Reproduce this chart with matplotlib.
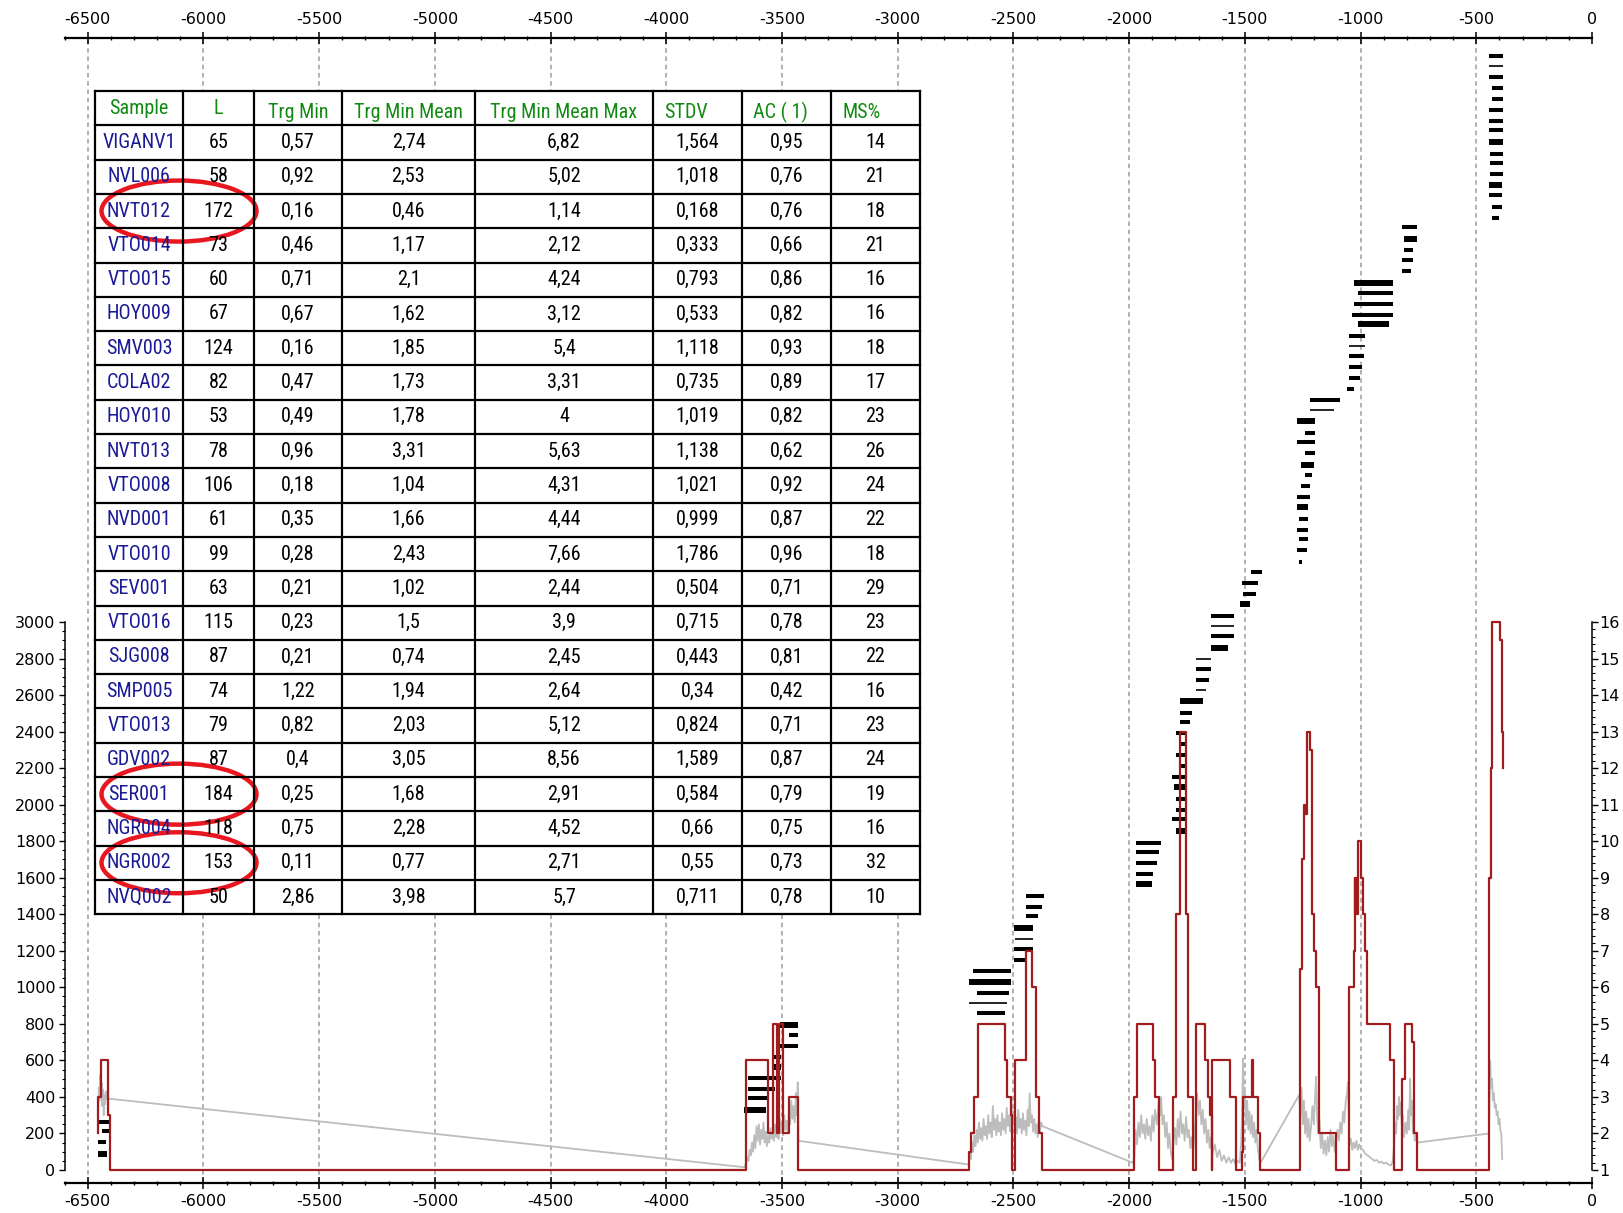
import matplotlib
matplotlib.use('Agg')
import matplotlib.pyplot as plt
from matplotlib import font_manager
from matplotlib.patches import Ellipse, Rectangle
from matplotlib.ticker import FixedLocator
import numpy as np

# ---- table data ----
headers = ['Sample', 'L', 'Trg Min', 'Trg Min Mean', 'Trg Min Mean Max', 'STDV', 'AC ( 1)', 'MS%']
samples = ['VIGANV1', 'NVL006', 'NVT012', 'VTO014', 'VTO015', 'HOY009', 'SMV003', 'COLA02',
           'HOY010', 'NVT013', 'VTO008', 'NVD001', 'VTO010', 'SEV001', 'VTO016', 'SJG008',
           'SMP005', 'VTO013', 'GDV002', 'SER001', 'NGR004', 'NGR002', 'NVQ002']
length = [65, 58, 172, 73, 60, 67, 124, 82, 53, 78, 106, 61, 99, 63, 115, 87, 74, 79, 87, 184, 118, 153, 50]
trg_min = [0.57, 0.92, 0.16, 0.46, 0.71, 0.67, 0.16, 0.47, 0.49, 0.96, 0.18, 0.35, 0.28, 0.21,
           0.23, 0.21, 1.22, 0.82, 0.4, 0.25, 0.75, 0.11, 2.86]
trg_min_mean = [2.74, 2.53, 0.46, 1.17, 2.1, 1.62, 1.85, 1.73, 1.78, 3.31, 1.04, 1.66, 2.43, 1.02,
                1.5, 0.74, 1.94, 2.03, 3.05, 1.68, 2.28, 0.77, 3.98]
trg_min_mean_max = [6.82, 5.02, 1.14, 2.12, 4.24, 3.12, 5.4, 3.31, 4, 5.63, 4.31, 4.44, 7.66, 2.44,
                    3.9, 2.45, 2.64, 5.12, 8.56, 2.91, 4.52, 2.71, 5.7]
stdv = [1.564, 1.018, 0.168, 0.333, 0.793, 0.533, 1.118, 0.735, 1.019, 1.138, 1.021, 0.999, 1.786,
        0.504, 0.715, 0.443, 0.34, 0.824, 1.589, 0.584, 0.66, 0.55, 0.711]
ac1 = [0.95, 0.76, 0.76, 0.66, 0.86, 0.82, 0.93, 0.89, 0.82, 0.62, 0.92, 0.87, 0.96, 0.71, 0.78,
       0.81, 0.42, 0.71, 0.87, 0.79, 0.75, 0.73, 0.78]
ms_pct = [14, 21, 18, 21, 16, 16, 18, 17, 23, 26, 24, 22, 18, 29, 23, 22, 16, 23, 24, 19, 16, 32, 10]
circled = ['NVT012', 'SER001', 'NGR002']

# ---- series spans (start year, end year, level on left scale, weight 0 thin/1/2 thick) ----
bar_start = [-446, -446, -446, -432, -432, -446, -446, -446, -446, -439, -439, -439, -446, -446, -432, -432,
             -820, -813, -813, -820, -820,
             -1028, -1012, -1028, -1036, -1012,
             -1049, -1049, -1049, -1049, -1049, -1058,
             -1217, -1217, -1274, -1241, -1274, -1241, -1258, -1241, -1258, -1274, -1274, -1265, -1274, -1265, -1274, -1265,
             -1474, -1514, -1506, -1520,
             -1647, -1647, -1647, -1647,
             -1712, -1712, -1712, -1712,
             -1781, -1781, -1781,
             -1798, -1781, -1798, -1776, -1813, -1806, -1798, -1798, -1813, -1798,
             -1971, -1971, -1971, -1971, -1971,
             -2447, -2447, -2447, -2497, -2493, -2497, -2497,
             -2674, -2691, -2658, -2691, -2658,
             -3507, -3471, -3507, -3533, -3537, -3648, -3648, -3648, -3663,
             -6451, -6438, -6455, -6455]
bar_end = [-385, -385, -385, -385, -385, -385, -385, -385, -385, -385, -385, -385, -391, -391, -391, -400,
           -757, -757, -772, -772, -780,
           -859, -859, -859, -859, -877,
           -980, -980, -987, -996, -1004, -1028,
           -1091, -1116, -1196, -1196, -1196, -1196, -1203, -1212, -1219, -1219, -1226, -1226, -1226, -1226, -1233, -1252,
           -1427, -1442, -1452, -1476,
           -1546, -1546, -1546, -1571,
           -1648, -1648, -1657, -1666,
           -1680, -1729, -1736,
           -1755, -1755, -1758, -1758, -1758, -1758, -1758, -1758, -1758, -1758,
           -1863, -1870, -1878, -1895, -1902,
           -2370, -2378, -2393, -2415, -2415, -2415, -2447,
           -2512, -2512, -2519, -2526, -2536,
           -3432, -3432, -3432, -3504, -3504, -3504, -3529, -3562, -3569,
           -6408, -6408, -6419, -6416]
bar_level = [6096, 6043, 5985, 5923, 5864, 5802, 5743, 5693, 5626, 5560, 5511, 5455, 5391, 5336, 5274, 5213,
             5165, 5097, 5034, 4982, 4923,
             4858, 4803, 4742, 4682, 4631,
             4567, 4512, 4456, 4397, 4337, 4275,
             4216, 4162, 4103, 4035, 3983, 3926, 3859, 3805, 3745, 3684, 3628, 3565, 3506, 3455, 3394, 3330,
             3275, 3215, 3155, 3100,
             3034, 2980, 2923, 2859,
             2799, 2742, 2684, 2628,
             2567, 2502, 2452,
             2392, 2332, 2272, 2211, 2151, 2096, 2031, 1971, 1921, 1856,
             1790, 1741, 1681, 1620, 1566,
             1502, 1441, 1390, 1326, 1264, 1210, 1150,
             1089, 1029, 969, 914, 859,
             795, 739, 679, 620, 565, 502, 442, 392, 328,
             264, 213, 152, 88]
bar_weight = [1, 0, 1, 1, 1, 1, 1, 1, 2, 1, 1, 1, 2, 1, 1, 1,
              1, 2, 1, 1, 1,
              2, 1, 1, 1, 2,
              1, 0, 1, 1, 1, 1,
              1, 0, 2, 1, 1, 1, 2, 1, 1, 1, 2, 1, 1, 1, 1, 1,
              1, 1, 1, 2,
              1, 0, 1, 2,
              0, 1, 1, 0,
              2, 1, 1,
              1, 1, 1, 1, 1, 2, 1, 1, 1, 2,
              1, 1, 1, 1, 2,
              1, 1, 1, 2, 0, 1, 1,
              1, 2, 1, 0, 1,
              2, 1, 1, 1, 2, 1, 1, 1, 2,
              1, 1, 1, 2]

# ---- sample depth (right scale), step changes ----
depth_year = [-6455, -6455, -6441, -6412, -6405,
              -3655, -3562, -3540, -3523, -3514, -3494, -3471, -3429,
              -2694, -2684, -2670, -2655, -2536, -2526, -2512, -2507, -2493, -2447, -2418, -2404, -2389, -2375,
              -1978, -1968, -1898, -1887, -1869, -1811, -1797, -1779, -1753, -1746, -1724,
              -1709, -1673, -1658, -1651, -1644, -1640, -1564, -1538, -1513, -1506, -1469, -1465, -1445, -1433,
              -1262, -1251, -1243, -1240, -1237, -1234, -1230, -1218, -1208, -1200, -1193, -1179, -1106,
              -1048, -1030, -1026, -1022, -1020, -1018, -1016, -1014, -1012, -997, -990, -983, -974, -871, -857,
              -821, -809, -777, -767, -756,
              -445, -438, -431, -397, -390, -383]
depth_val = [2, 3, 4, 2.5, 1,
             4, 2, 5, 2, 5, 2, 3, 1,
             1.5, 2, 3, 5, 4, 3, 2.5, 1, 4, 7, 6, 3, 2, 1,
             3, 5, 4, 3, 1, 3, 8, 13, 8, 3, 1,
             5, 4, 3, 2.5, 1, 4, 3, 1, 1.5, 3, 4, 3, 2, 1,
             6.5, 9.5, 11, 10.75, 11, 10.75, 13, 12.5, 8, 7, 6, 2, 1,
             6, 7, 9, 8, 9, 8, 8.5, 8, 10, 9, 8, 7, 5, 4, 1,
             3.5, 5, 4.5, 2, 1,
             9, 12, 16, 15.5, 13, 12]

# ---- chronology curve (left scale) ----
chrono = [(-6455, 330), (-6452, 450), (-6449, 380), (-6446, 520), (-6443, 420), (-6440, 480), (-6437, 350),
          (-6434, 440), (-6431, 300), (-6428, 410), (-6425, 360), (-6422, 430), (-6419, 390), (-6416, 420),
          (-6412, 385), (-6405, 390), (-3662, 15),
          (-3655, 40), (-3650, 70), (-3645, 50), (-3640, 110), (-3635, 80), (-3630, 150), (-3625, 100),
          (-3620, 190), (-3615, 120), (-3610, 240), (-3605, 160), (-3600, 250), (-3595, 140), (-3590, 220),
          (-3585, 170), (-3580, 260), (-3575, 150), (-3570, 210), (-3565, 130), (-3560, 190), (-3555, 150),
          (-3550, 230), (-3545, 170), (-3540, 210), (-3535, 160), (-3530, 250), (-3525, 180), (-3520, 230),
          (-3515, 170), (-3510, 280), (-3505, 200), (-3500, 250), (-3495, 190), (-3490, 300), (-3485, 220),
          (-3480, 270), (-3475, 200), (-3470, 320), (-3465, 250), (-3460, 380), (-3455, 280), (-3450, 350),
          (-3445, 260), (-3440, 420), (-3436, 300), (-3432, 480), (-3429, 160),
          (-2694, 30), (-2689, 90), (-2684, 60), (-2679, 150), (-2674, 100), (-2669, 190), (-2664, 130),
          (-2659, 220), (-2654, 150), (-2649, 260), (-2644, 170), (-2639, 230), (-2634, 160), (-2629, 280),
          (-2624, 190), (-2619, 240), (-2614, 170), (-2609, 300), (-2604, 200), (-2599, 260), (-2594, 180),
          (-2589, 350), (-2584, 220), (-2579, 280), (-2574, 190), (-2569, 300), (-2564, 210), (-2559, 260),
          (-2554, 190), (-2549, 310), (-2544, 220), (-2539, 280), (-2534, 200), (-2529, 340), (-2524, 240),
          (-2519, 300), (-2514, 210), (-2509, 380), (-2504, 250), (-2499, 320), (-2494, 230), (-2489, 290),
          (-2484, 200), (-2479, 330), (-2474, 230), (-2469, 280), (-2464, 200), (-2459, 310), (-2454, 220),
          (-2449, 270), (-2444, 190), (-2439, 330), (-2434, 240), (-2430, 420), (-2425, 260), (-2420, 300),
          (-2415, 210), (-2410, 280), (-2405, 200), (-2400, 250), (-2395, 180), (-2390, 300), (-2385, 210),
          (-2380, 260), (-2375, 240), (-1985, 40),
          (-1978, 60), (-1972, 220), (-1966, 140), (-1960, 260), (-1954, 180), (-1948, 300), (-1942, 200),
          (-1936, 250), (-1930, 170), (-1924, 280), (-1918, 190), (-1912, 240), (-1906, 160), (-1900, 300),
          (-1894, 210), (-1888, 330), (-1880, 250), (-1872, 380), (-1866, 300), (-1862, 400), (-1856, 250),
          (-1850, 300), (-1844, 180), (-1838, 260), (-1832, 120), (-1826, 200), (-1820, 100), (-1814, 60),
          (-1808, 150), (-1802, 230), (-1796, 140), (-1790, 280), (-1784, 180), (-1778, 320), (-1772, 200),
          (-1766, 250), (-1760, 160), (-1754, 290), (-1748, 180), (-1742, 220), (-1736, 120), (-1730, 180),
          (-1724, 90), (-1718, 200), (-1712, 300), (-1706, 420), (-1700, 300), (-1694, 380), (-1688, 250),
          (-1682, 330), (-1676, 200), (-1670, 280), (-1664, 150), (-1658, 220), (-1652, 120), (-1646, 180),
          (-1640, 90), (-1630, 140), (-1620, 70), (-1610, 110), (-1600, 50), (-1590, 80), (-1580, 40),
          (-1570, 70), (-1560, 40), (-1550, 60), (-1540, 30), (-1530, 50), (-1522, 40), (-1516, 150),
          (-1512, 300), (-1508, 610), (-1504, 350), (-1500, 450), (-1495, 250), (-1490, 380), (-1485, 220),
          (-1480, 320), (-1475, 200), (-1470, 300), (-1465, 180), (-1460, 260), (-1455, 150), (-1450, 220),
          (-1444, 120), (-1438, 60), (-1432, 40),
          (-1266, 410), (-1260, 300), (-1255, 450), (-1250, 250), (-1245, 380), (-1240, 200), (-1235, 320),
          (-1230, 180), (-1225, 280), (-1220, 160), (-1214, 240), (-1208, 350), (-1202, 250), (-1196, 420),
          (-1192, 510), (-1188, 300), (-1184, 200), (-1178, 280), (-1172, 120), (-1166, 200), (-1160, 90),
          (-1154, 160), (-1148, 80), (-1142, 180), (-1136, 100), (-1130, 220), (-1124, 130), (-1118, 190),
          (-1112, 100), (-1106, 170), (-1100, 220), (-1094, 160), (-1088, 260), (-1082, 200), (-1076, 320),
          (-1070, 260), (-1064, 380), (-1058, 420), (-1055, 480), (-1052, 350), (-1048, 140), (-1042, 170),
          (-1036, 110), (-1030, 150), (-1024, 120), (-1018, 160), (-1012, 110), (-1006, 140), (-1000, 120),
          (-990, 110), (-980, 90), (-970, 80), (-960, 70), (-950, 60), (-940, 50), (-930, 55), (-920, 40),
          (-910, 45), (-900, 35), (-890, 40), (-880, 30), (-870, 25), (-862, 40), (-856, 120), (-850, 260),
          (-846, 200), (-842, 350), (-838, 280), (-834, 400), (-830, 300), (-826, 370), (-822, 250),
          (-818, 300), (-812, 180), (-806, 260), (-800, 200), (-794, 330), (-790, 220), (-786, 500),
          (-782, 300), (-778, 380), (-774, 200), (-770, 260), (-766, 160), (-760, 200), (-756, 150),
          (-445, 200), (-440, 600), (-436, 450), (-432, 500), (-428, 380), (-424, 420), (-420, 340),
          (-416, 360), (-412, 300), (-408, 320), (-404, 250), (-400, 280), (-396, 220), (-392, 200), (-388, 60)]

# ---- fonts ----
avail = {f.name for f in font_manager.fontManager.ttflist}
plt.rcParams['font.family'] = ['DejaVu Sans']
narrow = [f for f in ['Liberation Sans Narrow', 'Roboto Condensed', 'Open Sans Condensed'] if f in avail]
if narrow:
    tfont, tsize = [narrow[0], 'DejaVu Sans'], 14.5
else:
    tfont, tsize = ['Liberation Sans', 'DejaVu Sans'], 12.5

W, H = 1623, 1213
fig = plt.figure(figsize=(W / 100, H / 100), dpi=100)

# pixel layout of the plotting area
left_px, right_px, top_px, bot_px = 64.6, 1592, 38, 1183
zero_px, px_per_unit = 1170, 548 / 3000
ax = fig.add_axes([left_px / W, 1 - bot_px / H, (right_px - left_px) / W, (bot_px - top_px) / H])
ylo = -(bot_px - zero_px) / px_per_unit
yhi = (zero_px - top_px) / px_per_unit
ax.set_xlim(-6600, 0)
ax.set_ylim(ylo, yhi)

ax.vlines(np.arange(-6500, 0, 500), ylo, yhi, colors='#9c9c9c', linestyles=(0, (3, 2.4)), lw=1.1, zorder=1)

cy = [p[0] for p in chrono]
cv = [p[1] for p in chrono]
ax.plot(cy, cv, color='#bdbdbd', lw=1.3, zorder=2)

lw_map = {0: 1.2, 1: 2.9, 2: 4.3}
ax.hlines(bar_level, bar_start, bar_end, colors='black',
          linewidths=[lw_map[w] for w in bar_weight], zorder=3)

# axes styling
for s in ['top', 'bottom']:
    ax.spines[s].set_linewidth(1.6)
ax.spines['right'].set_visible(False)
ax.spines['left'].set_bounds(0, 3000)
ax.spines['left'].set_linewidth(1.1)

xt = np.arange(-6500, 1, 500)
ax.set_xticks(xt)
ax.set_xticklabels(['-%d' % abs(v) if v else '0' for v in xt])
ax.xaxis.set_minor_locator(FixedLocator(np.arange(-6600, 1, 100)))
ax.tick_params(axis='x', which='major', top=True, labeltop=True, direction='inout', length=8, width=1.1,
               labelsize=11.5, pad=4)
ax.tick_params(axis='x', which='minor', top=True, direction='inout', length=3, width=1)
yt = np.arange(0, 3001, 200)
ax.yaxis.set_major_locator(FixedLocator(yt))
ax.set_yticklabels([str(v) for v in yt])
ax.yaxis.set_minor_locator(FixedLocator(np.arange(0, 3001, 50)))
ax.tick_params(axis='y', which='major', direction='out', length=4.5, width=1, labelsize=11.5, pad=2)
ax.tick_params(axis='y', which='minor', direction='out', length=2.5, width=0.8)

ax2 = ax.twinx()
ax2.set_ylim(1 + ylo / 200, 1 + yhi / 200)
for s in ['top', 'bottom', 'left']:
    ax2.spines[s].set_visible(False)
ax2.spines['right'].set_bounds(1, 16)
ax2.spines['right'].set_linewidth(1.1)
ax2.yaxis.set_major_locator(FixedLocator(np.arange(1, 17)))
ax2.yaxis.set_minor_locator(FixedLocator(np.arange(1, 16.01, 0.2)))
ax2.tick_params(axis='y', which='major', direction='out', length=4.5, width=1, labelsize=11.5, pad=1)
ax2.tick_params(axis='y', which='minor', direction='out', length=2.5, width=0.8)
ax2.step(depth_year, depth_val, where='post', color='#a11c1c', lw=1.6, zorder=4)

# ---- statistics table overlay (pixel coordinates) ----
tax = fig.add_axes([0, 0, 1, 1], zorder=10)
tax.set_xlim(0, W)
tax.set_ylim(H, 0)
tax.axis('off')
tax.patch.set_visible(False)

col_x = [95, 183, 254, 342, 475, 653, 742, 831, 920]
t_top, row_h = 91, 34.3
n_rows = len(samples) + 1
t_bot = t_top + n_rows * row_h
tax.add_patch(Rectangle((col_x[0], t_top), col_x[-1] - col_x[0], t_bot - t_top, fc='white', ec='none'))
for x in col_x:
    tax.plot([x, x], [t_top, t_bot], color='black', lw=1.6, solid_capstyle='projecting')
for i in range(n_rows + 1):
    y = t_top + i * row_h
    tax.plot([col_x[0], col_x[-1]], [y, y], color='black', lw=1.6, solid_capstyle='projecting')

for j, h in enumerate(headers):
    yc = t_top + row_h / 2 + (0 if j < 2 else 4)
    if j < 5:
        tax.text((col_x[j] + col_x[j + 1]) / 2, yc, h, ha='center', va='center', color='#108a10',
                 family=tfont, fontsize=tsize)
    else:
        tax.text(col_x[j] + 11, yc, h, ha='left', va='center', color='#108a10',
                 family=tfont, fontsize=tsize)


def fmt(v):
    return ('%g' % v).replace('.', ',')


columns = [samples, length, trg_min, trg_min_mean, trg_min_mean_max, stdv, ac1, ms_pct]
for i in range(len(samples)):
    yc = t_top + (i + 1.5) * row_h
    for j, col in enumerate(columns):
        txt = col[i] if j == 0 else fmt(col[i])
        tax.text((col_x[j] + col_x[j + 1]) / 2, yc, txt, ha='center', va='center',
                 color='#1a1a96' if j == 0 else 'black', family=tfont, fontsize=tsize)

for name in circled:
    i = samples.index(name)
    yc = t_top + (i + 1.5) * row_h
    tax.add_patch(Ellipse((179, yc), 155, 61, fill=False, ec='#e8161e', lw=3.2))

fig.savefig('out.png', dpi=100)
